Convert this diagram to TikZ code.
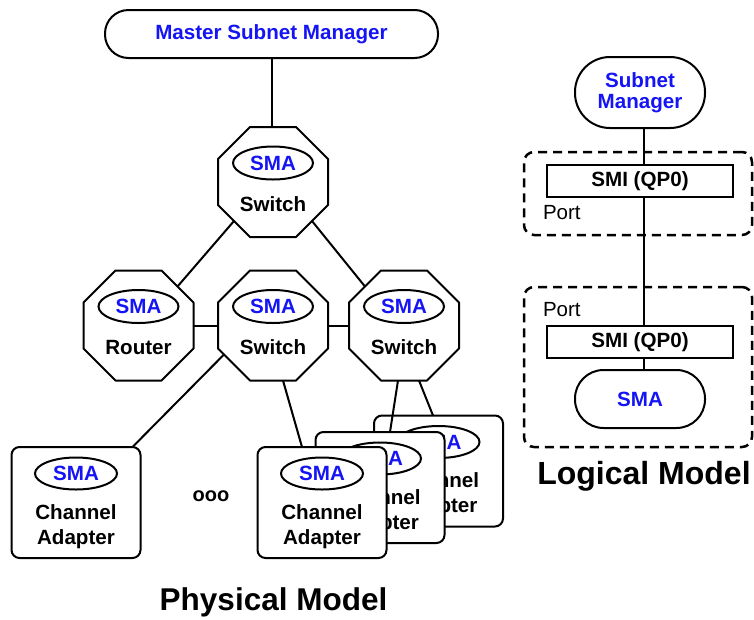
\documentclass[tikz,border=0pt]{standalone}
\usepackage{fontspec}
\setmainfont{Liberation Sans}
\usetikzlibrary{calc,shapes.geometric}
\definecolor{smablue}{RGB}{20,20,245}
\newcommand\fA{\fontsize{20.6}{25}\selectfont\bfseries}
\newcommand\fR{\fontsize{20.5}{22}\selectfont}
\newcommand\fP{\fontsize{31.5}{34}\selectfont\bfseries}
\newcommand\fL{\fontsize{32}{34}\selectfont\bfseries}
\tikzset{
  every node/.style={inner sep=0pt, outer sep=0pt},
  ln/.style={line width=2pt, line join=round},
  octbox/.style={rectangle, minimum width=110pt, minimum height=110pt},
  smaell/.style={ellipse, draw, line width=2pt, fill=white, minimum width=80pt, minimum height=33pt, text=smablue, font=\fA},
  lbl/.style={font=\fA, align=center},
  cabox/.style={rectangle, draw, line width=2pt, fill=white, rounded corners=8pt, minimum width=129pt, minimum height=111pt},
  smibox/.style={rectangle, draw, line width=2pt, fill=white, minimum width=186pt, minimum height=32pt, font=\fA},
  portbox/.style={rectangle, draw, line width=2.5pt, dash pattern=on 9pt off 6pt, rounded corners=10pt, minimum width=228pt},
  portlbl/.style={font=\fR, anchor=west}
}
\newcommand\octdraw[1]{%
  \draw[ln,fill=white] ($(#1.north west)+(32pt,0pt)$) -- ($(#1.north east)+(-32pt,0pt)$)
   -- ($(#1.north east)+(0pt,-32pt)$) -- ($(#1.south east)+(0pt,32pt)$)
   -- ($(#1.south east)+(-32pt,0pt)$) -- ($(#1.south west)+(32pt,0pt)$)
   -- ($(#1.south west)+(0pt,32pt)$) -- ($(#1.north west)+(0pt,-32pt)$) -- cycle;}
\newcommand\octnode[4]{%
  \node[octbox] (#1) at (#2,#3) {};
  \octdraw{#1}
  \node[smaell] (#1s) at ($(#1.center)+(0pt,19pt)$) {SMA};
  \node[lbl] (#1l) at ($(#1.center)+(0pt,-22pt)$) {#4};
}
\newcommand\canode[3]{%
  \node[cabox] (#1) at (#2,#3) {};
  \node[smaell, minimum width=82pt, minimum height=32pt] (#1s) at ($(#1.center)+(0pt,29pt)$) {SMA};
  \node[lbl] (#1l) at ($(#1.center)+(0pt,-24pt)$) {Channel\\Adapter};
}
\begin{document}
\begin{tikzpicture}[x=1pt,y=-1pt]
\useasboundingbox (0,0) rectangle (754,619);
% ---------- Physical model ----------
\node[draw, line width=2pt, rounded corners=23.5pt, minimum width=333pt, minimum height=48pt, fill=white, text=smablue, font=\fA] (msm) at (271.5,34) {Master Subnet Manager};
\octnode{sw0}{273}{182}{Switch}
\octnode{rt}{138.5}{325.5}{Router}
\octnode{sw1}{273}{325.5}{Switch}
\octnode{sw2}{404}{325.5}{Switch}
\canode{ca1}{76}{502.5}
\canode{ca4}{438.5}{471}
\canode{ca3}{380}{487.5}
\canode{ca2}{322}{502.5}
\node[font=\fontsize{20}{22}\selectfont\bfseries] (dots) at (211,496) {ooo};
% connectors
\draw[ln] (msm.south) -- (msm.south |- sw0.north);
\draw[ln] ($(sw0.south west)+(16pt,16pt)$) -- ($(rt.north east)+(-16pt,-16pt)$);
\draw[ln] ($(sw0.south east)+(-16pt,16pt)$) -- ($(sw2.north west)+(16pt,-16pt)$);
\draw[ln] (rt.east) -- (sw1.west);
\draw[ln] (sw1.east) -- (sw2.west);
\draw[ln] ($(sw1.south west)+(6pt,26pt)$) -- ($(ca1.north east)+(-8pt,0pt)$);
\draw[ln] ($(sw1.south)+(10pt,0pt)$) -- ($(ca2.north)+(-20pt,0pt)$);
\draw[ln] ($(sw2.south)+(-6pt,0pt)$) -- ($(ca3.north)+(10pt,0pt)$);
\draw[ln] ($(sw2.south)+(15pt,0pt)$) -- ($(ca4.north)+(-5.5pt,0pt)$);
\node[font=\fP] (phys) at (273.5,602) {Physical Model};
% ---------- Logical model ----------
\node[portbox, minimum height=83pt] (port1) at (638,193.5) {};
\node[portbox, minimum height=160pt] (port2) at (638,367) {};
\node[portlbl] (p1l) at (543,213) {Port};
\node[portlbl] (p2l) at (543,310) {Port};
\node[draw, line width=2pt, rounded corners=35pt, minimum width=130pt, minimum height=71pt, fill=white, text=smablue, font=\fontsize{20.6}{20.5}\selectfont\bfseries, align=center] (sm) at (640,92.5) {Subnet\\Manager};
\node[smibox] (smi1) at (640,181) {SMI (QP0)};
\node[smibox] (smi2) at (640,342) {SMI (QP0)};
\node[draw, line width=2pt, rounded corners=28.5pt, minimum width=130pt, minimum height=58pt, fill=white, text=smablue, font=\fA] (lsma) at (640,399) {SMA};
\draw[ln] ($(sm.south)+(4pt,0pt)$) -- ($(smi1.north)+(4pt,0pt)$);
\draw[ln] ($(smi1.south)+(4pt,0pt)$) -- ($(smi2.north)+(4pt,0pt)$);
\draw[ln] ($(smi2.south)+(4pt,0pt)$) -- ($(lsma.north)+(4pt,0pt)$);
\node[font=\fL] (logi) at (644,476) {Logical Model};
\end{tikzpicture}
\end{document}
